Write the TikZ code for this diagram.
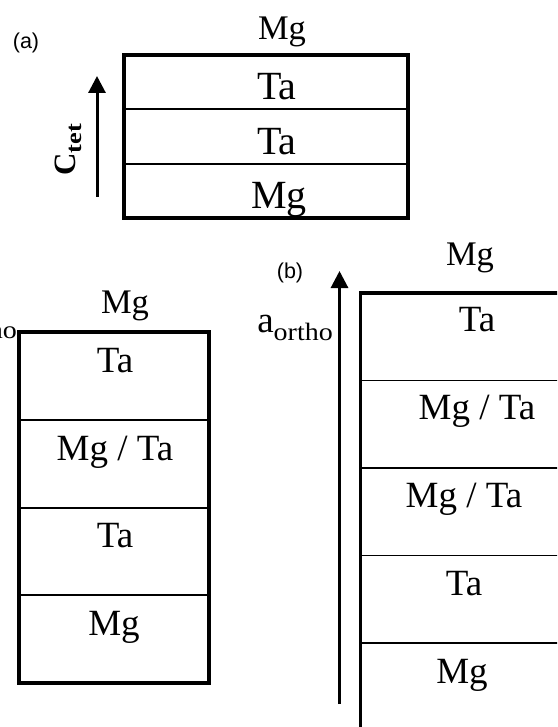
\documentclass[tikz,border=0pt]{standalone}
\usepackage{fontspec}
\setmainfont{Liberation Serif}
\newfontfamily\tagfont{Liberation Sans}
\usetikzlibrary{arrows.meta}
\newcommand{\orthosub}{\raisebox{-8pt}{\fontsize{25}{27}\selectfont\scalebox{1.12}[1]{ortho}}}
\begin{document}
\begin{tikzpicture}[x=1pt,y=-1pt,
  frame/.style={line width=3.2pt},
  layer/.style={line width=1.5pt},
  axis/.style={line width=3pt,-{Triangle[width=17pt,length=17pt]}},
  cell/.style={anchor=base,inner sep=0pt,font=\fontsize{37}{42}\selectfont},
  bigcell/.style={anchor=base,inner sep=0pt,font=\fontsize{40}{46}\selectfont},
  toplabel/.style={anchor=base,inner sep=0pt,font=\fontsize{34.5}{40}\selectfont},
  tag/.style={inner sep=0pt,font=\tagfont\fontsize{21.5}{26}\selectfont},
  axislabel/.style={anchor=base east,inner sep=0pt,font=\fontsize{37}{42}\selectfont},
]
\useasboundingbox (0,0) rectangle (557,727);
\clip (0,0) rectangle (557,727);

% ---- (a) tetragonal stacking ----
\node[tag] (taga) at (26,43) {(a)};
\draw[frame] (124,55) rectangle (408,218);
\draw[layer] (124,109) -- (408,109);
\draw[layer] (124,164) -- (408,164);
\node[toplabel] (a0) at (282,40) {Mg};
\node[bigcell] (a1) at (277,100) {Ta};
\node[bigcell] (a2) at (277,155) {Ta};
\node[bigcell] (a3) at (279,208) {Mg};
\coordinate (ctail) at (97,197);
\coordinate (chead) at (97,76);
\draw[axis] (ctail) -- (chead);
\node[rotate=90,anchor=base,inner sep=0pt,font=\fontsize{31}{35}\selectfont\bfseries] (ctet) at (75,150)
  {C\raisebox{-6pt}{\fontsize{22}{25}\selectfont\scalebox{1.2}[1]{tet}}};

% ---- orthorhombic stacking, left ----
\node[axislabel] (aleft) at (17,330) {a\orthosub};
\draw[frame] (19,332) rectangle (209,683);
\draw[layer] (19,420) -- (209,420);
\draw[layer] (19,508) -- (209,508);
\draw[layer] (19,595) -- (209,595);
\node[toplabel] (l0) at (125,313) {Mg};
\node[cell] (l1) at (115,372) {Ta};
\node[cell] (l2) at (115,460) {Mg / Ta};
\node[cell] (l3) at (115,547) {Ta};
\node[cell] (l4) at (114,635) {Mg};

% ---- (b) orthorhombic stacking, right ----
\node[tag] (tagb) at (290,273) {(b)};
\coordinate (otail) at (339.5,704);
\coordinate (ohead) at (339.5,271);
\draw[axis] (otail) -- (ohead);
\node[axislabel] (aright) at (333,332) {a\orthosub};
\draw[frame] (360.5,293) rectangle (620,780);
\draw[layer] (360.5,380.5) -- (620,380.5);
\draw[layer] (360.5,468) -- (620,468);
\draw[layer] (360.5,555.5) -- (620,555.5);
\draw[layer] (360.5,643) -- (620,643);
\node[toplabel] (r0) at (470,265) {Mg};
\node[cell] (r1) at (477,331) {Ta};
\node[cell] (r2) at (477,419) {Mg / Ta};
\node[cell] (r3) at (464,507) {Mg / Ta};
\node[cell] (r4) at (464,595) {Ta};
\node[cell] (r5) at (462,683) {Mg};
\end{tikzpicture}
\end{document}
